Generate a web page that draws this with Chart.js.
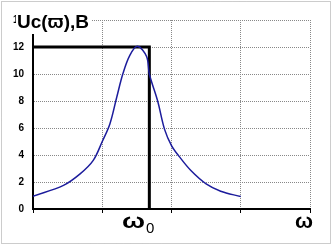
<!DOCTYPE html>
<html>
<head>
<meta charset="utf-8">
<script src="https://cdn.jsdelivr.net/npm/chart.js@4/dist/chart.umd.min.js"></script>
<style>
  html, body { margin: 0; padding: 0; background: #fff; }
  #wrap { width: 332px; height: 245px; position: relative; }
</style>
</head>
<body>
<div id="wrap"><canvas id="c" width="332" height="245"></canvas></div>
<script>
// resonance curve Uc(w)
let wVals = [0, 0.44, 0.68, 0.87, 1.0, 1.11, 1.21, 1.30, 1.40, 1.51, 1.64, 1.68, 1.80, 1.90, 2.0, 2.11, 2.28, 2.50, 2.71, 3.0];
let ucVals = [0.95, 1.75, 2.6, 3.6, 5.0, 6.3, 8.3, 10.05, 11.4, 12.05, 11.3, 10.0, 8.0, 5.9, 4.7, 3.9, 2.85, 1.86, 1.32, 0.92];

// black marker lines to the peak
let markX = [0, 1.68, 1.68];
let markY = [12, 12, 0];

let yTicks = [0, 2, 4, 6, 8, 10, 12, 14];

let curve = wVals.map((w, i) => ({ x: w, y: ucVals[i] }));
let marker = markX.map((w, i) => ({ x: w, y: markY[i] }));

// extra text + frame
let extras = {
  id: "extras",
  afterDraw(chart) {
    let ctx = chart.ctx;
    ctx.save();
    // dotted frame round the whole picture
    ctx.strokeStyle = "#999";
    ctx.lineWidth = 1;
    ctx.setLineDash([1, 1]);
    ctx.strokeRect(1.5, 1.5, 329, 242);
    ctx.setLineDash([]);

    // title with white box over the top tick
    ctx.fillStyle = "#fff";
    ctx.fillRect(16, 8, 76, 26);
    ctx.fillStyle = "#000";
    ctx.font = "bold 18px Arial, 'Liberation Sans'";
    ctx.textBaseline = "alphabetic";
    ctx.textAlign = "left";
    let t = "Uc(\u03D6),B";
    let tw = ctx.measureText(t).width;
    ctx.save();
    ctx.translate(17, 28);
    ctx.scale(72 / tw, 1);
    ctx.fillText(t, 0, 0);
    ctx.restore();

    // omega labels
    ctx.font = "bold 20px Arial, 'Liberation Sans'";
    let ow = ctx.measureText("\u03C9").width;
    ctx.save();
    ctx.translate(122, 228);
    ctx.scale(23 / ow, 1);
    ctx.fillText("\u03C9", 0, 0);
    ctx.restore();
    ctx.font = "15px Arial, 'Liberation Sans'";
    ctx.fillText("0", 146, 233);

    ctx.font = "bold 20px Arial, 'Liberation Sans'";
    ctx.save();
    ctx.translate(295, 228);
    ctx.scale(18 / ow, 1);
    ctx.fillText("\u03C9", 0, 0);
    ctx.restore();
    ctx.restore();
  }
};

new Chart(document.getElementById("c"), {
  type: "scatter",
  data: {
    datasets: [
      {
        data: curve,
        showLine: true,
        borderColor: "#1c1c9c",
        borderWidth: 1.5,
        pointRadius: 0,
        tension: 0.35
      },
      {
        data: marker,
        showLine: true,
        borderColor: "#000",
        borderWidth: 3,
        pointRadius: 0,
        tension: 0
      }
    ]
  },
  options: {
    responsive: false,
    animation: false,
    layout: { padding: { top: 20, right: 22, left: 0, bottom: 0 } },
    plugins: { legend: { display: false }, tooltip: { enabled: false } },
    scales: {
      x: {
        type: "linear",
        min: 0,
        max: 4,
        afterBuildTicks: s => { s.ticks = [0, 1, 2, 3, 4].map(v => ({ value: v })); },
        afterFit: s => { s.height = 36; },
        ticks: { display: false },
        grid: { color: "#888", tickColor: "#000", tickLength: 4, drawTicks: true },
        border: { color: "#000", width: 2, dash: [1, 1] }
      },
      y: {
        min: 0,
        max: 14,
        afterBuildTicks: s => { s.ticks = yTicks.map(v => ({ value: v })); },
        afterFit: s => { s.width = 33; },
        ticks: {
          color: "#000",
          padding: 9,
          font: { family: "Arial, 'Liberation Sans'", size: 10, weight: "bold" }
        },
        grid: { color: "#888", tickLength: 4, drawTicks: false },
        border: { color: "#000", width: 2, dash: [1, 1] }
      }
    }
  },
  plugins: [extras]
});
</script>
</body>
</html>
